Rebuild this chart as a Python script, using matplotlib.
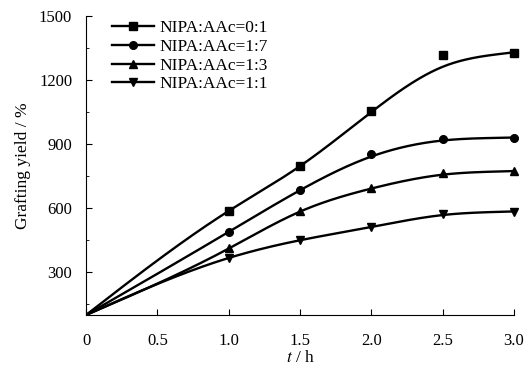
import numpy as np
import matplotlib
matplotlib.use("Agg")
import matplotlib.pyplot as plt
from matplotlib.ticker import MultipleLocator

plt.rcParams['font.family'] = ['Liberation Serif', 'DejaVu Serif']
plt.rcParams['mathtext.fontset'] = 'stix'

# время, ч
t = [0.0, 1.0, 1.5, 2.0, 2.5, 3.0]

# степень прививки, % (точки)
y_01 = [100, 587, 797, 1055, 1317, 1328]
y_17 = [100, 489, 684, 856, 923, 931]
y_13 = [100, 414, 589, 697, 766, 775]
y_11 = [100, 368, 449, 512, 575, 583]

c_01 = [100, 587, 797, 1050, 1262, 1330]
c_17 = [100, 489, 684, 842, 917, 931]
c_13 = [100, 411, 584, 692, 757, 774]
c_11 = [100, 367, 450, 512, 568, 585]

labels = ['NIPA:AAc=0:1', 'NIPA:AAc=1:7', 'NIPA:AAc=1:3', 'NIPA:AAc=1:1']
series = [y_01, y_17, y_13, y_11]
curves = [c_01, c_17, c_13, c_11]
markers = ['s', 'o', '^', 'v']


def spline(x, y, xn):
    """Кубический сплайн: естественный слева, наклон справа = доля последней хорды"""
    x = np.asarray(x, float)
    y = np.asarray(y, float)
    n = len(x)
    h = np.diff(x)
    end_slope = 0.6 * (y[-1] - y[-2]) / h[-1]
    A = np.zeros((n, n))
    b = np.zeros(n)
    A[0, 0] = 1.0
    for i in range(1, n - 1):
        A[i, i - 1] = h[i - 1]
        A[i, i] = 2 * (h[i - 1] + h[i])
        A[i, i + 1] = h[i]
        b[i] = 6 * ((y[i + 1] - y[i]) / h[i] - (y[i] - y[i - 1]) / h[i - 1])
    A[-1, -2] = h[-1]
    A[-1, -1] = 2 * h[-1]
    b[-1] = 6 * (end_slope - (y[-1] - y[-2]) / h[-1])
    M = np.linalg.solve(A, b)
    idx = np.clip(np.searchsorted(x, xn) - 1, 0, n - 2)
    x0, x1 = x[idx], x[idx + 1]
    hi = h[idx]
    return (M[idx] * (x1 - xn)**3 / (6 * hi) + M[idx + 1] * (xn - x0)**3 / (6 * hi)
            + (y[idx] / hi - M[idx] * hi / 6) * (x1 - xn)
            + (y[idx + 1] / hi - M[idx + 1] * hi / 6) * (xn - x0))


fig = plt.figure(figsize=(5.26, 3.70), dpi=100)
ax = fig.add_axes([0.1635, 0.1486, 0.8135, 0.8082])

tt = np.linspace(0, 3, 300)
for ys, cs, m, lab in zip(series, curves, markers, labels):
    ax.plot(tt, spline(t, cs, tt), color='black', lw=1.7, zorder=2)
    ax.plot(t[1:], ys[1:], linestyle='none', marker=m, color='black',
            markersize=5.5, zorder=3, clip_on=False)
    ax.plot([], [], color='black', lw=1.7, marker=m, markersize=5.5, label=lab)

ax.set_xlim(0, 3.0)
ax.set_ylim(100, 1500)
ax.set_xticks([0, 0.5, 1.0, 1.5, 2.0, 2.5, 3.0])
ax.set_xticklabels(['0', '0.5', '1.0', '1.5', '2.0', '2.5', '3.0'])
ax.set_yticks([300, 600, 900, 1200, 1500])
ax.yaxis.set_minor_locator(MultipleLocator(150))
ax.tick_params(direction='in', labelsize=12, length=4)
ax.tick_params(axis='y', pad=10)
ax.tick_params(axis='x', pad=13)
ax.tick_params(which='minor', direction='in', length=2)
ax.spines['top'].set_visible(False)
ax.spines['right'].set_visible(False)

ax.set_xlabel(r'$\it{t}$ / h', fontsize=12.5, labelpad=1)
ax.set_ylabel('Grafting yield / %', fontsize=12.5, labelpad=6)

ax.legend(loc='upper left', bbox_to_anchor=(0.045, 1.01), frameon=False,
          fontsize=12.5, handlelength=2.4, handletextpad=0.3,
          labelspacing=0.15, borderaxespad=0)

fig.savefig('out.png', dpi=100)
